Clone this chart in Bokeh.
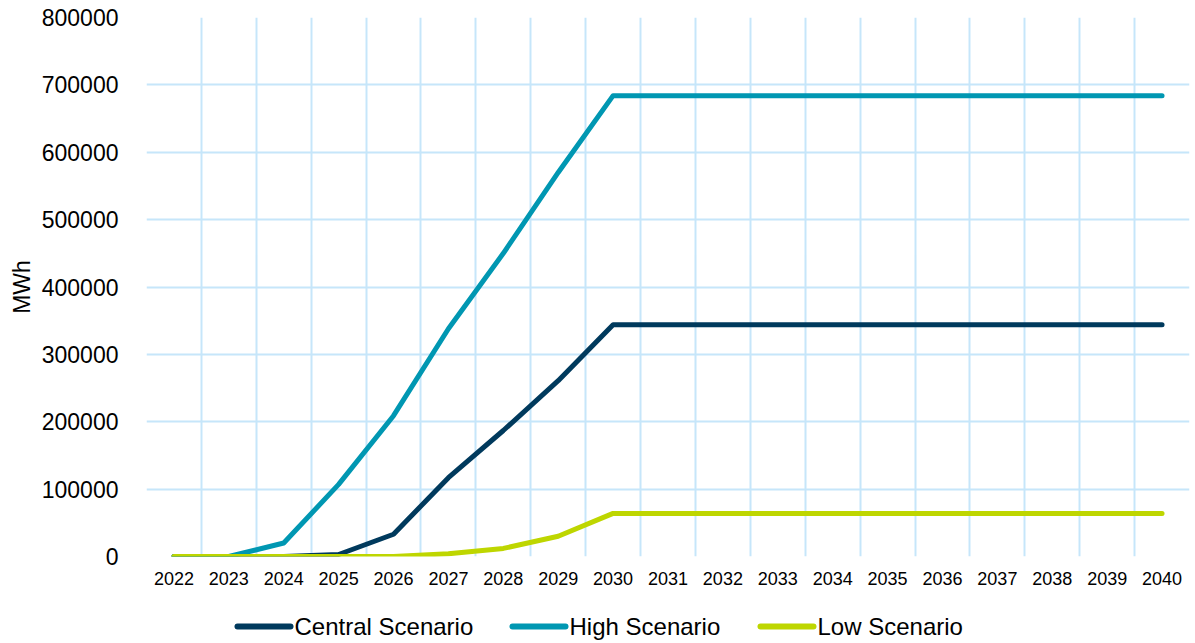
from bokeh.plotting import figure
from bokeh.layouts import column
from bokeh.models import FixedTicker, Range1d, NumeralTickFormatter
from bokeh.core.properties import value
from bokeh.embed import file_html
from bokeh.resources import INLINE

years = [str(y) for y in range(2022, 2041)]
central = [0, 0, 0, 3000, 33000, 117000, 187000, 261000, 344000,
           344000, 344000, 344000, 344000, 344000, 344000, 344000, 344000, 344000, 344000]
high = [0, 0, 20000, 107000, 209000, 338000, 450000, 570000, 684000,
        684000, 684000, 684000, 684000, 684000, 684000, 684000, 684000, 684000, 684000]
low = [0, 0, 0, 0, 0, 4000, 12000, 30000, 64000,
       64000, 64000, 64000, 64000, 64000, 64000, 64000, 64000, 64000, 64000]
y_ticks = list(range(0, 800001, 100000))
series_names = ["Central Scenario", "High Scenario", "Low Scenario"]
series_colors = ["#003A5D", "#0097B2", "#BED600"]

xs = list(range(len(years)))
FONT = "Liberation Sans"
GRID = "#C6E6FA"
W = 1195
LEFT, RIGHT = 146, 6
LEGEND_H = 43

p = figure(width=W, height=643 - LEGEND_H, output_backend="svg", toolbar_location=None,
           x_range=Range1d(-0.5, len(years) - 0.5), y_range=Range1d(0, 800000),
           min_border_left=LEFT, min_border_right=RIGHT, min_border_top=17,
           min_border_bottom=44)
p.outline_line_color = None
p.background_fill_color = "white"
p.border_fill_color = "white"

# category labels in the middle, grid lines on the category boundaries
p.xaxis.ticker = FixedTicker(ticks=xs)
p.xaxis.major_label_overrides = {i: y for i, y in enumerate(years)}
p.xgrid.ticker = FixedTicker(ticks=[i - 0.5 for i in range(len(years) + 1)])
p.yaxis.ticker = FixedTicker(ticks=y_ticks)
p.yaxis.formatter = NumeralTickFormatter(format="0")
p.ygrid.ticker = FixedTicker(ticks=y_ticks)
for g in (p.xgrid, p.ygrid):
    g.grid_line_color = GRID
    g.grid_line_width = 2

for ax in (p.xaxis, p.yaxis):
    ax.axis_line_color = None
    ax.major_tick_line_color = None
    ax.minor_tick_line_color = None
    ax.major_label_text_font = FONT
    ax.major_label_text_color = "#000000"

p.xaxis.major_label_text_font_size = "18px"
p.xaxis.major_label_standoff = 9
p.yaxis.major_label_text_font_size = "23px"
p.yaxis.major_label_standoff = 22
p.yaxis.axis_label = "MWh"
p.yaxis.axis_label_text_font = FONT
p.yaxis.axis_label_text_font_size = "23px"
p.yaxis.axis_label_text_font_style = "normal"
p.yaxis.axis_label_text_color = "#000000"
p.yaxis.axis_label_standoff = 4

for vals, color in zip([central, high, low], series_colors):
    p.line(xs, vals, line_color=color, line_width=5,
           line_cap="round", line_join="round")

# legend strip under the chart; its frame lines up with the chart frame,
# so the x range is given in page pixels
lg = figure(width=W, height=LEGEND_H, output_backend="svg", toolbar_location=None,
            x_range=Range1d(LEFT, W - RIGHT), y_range=Range1d(0, LEGEND_H),
            min_border_left=LEFT, min_border_right=RIGHT,
            min_border_top=0, min_border_bottom=0)
lg.axis.visible = False
lg.grid.visible = False
lg.outline_line_color = None
lg.background_fill_color = "white"
lg.border_fill_color = "white"

key_x0 = [237, 512, 760]
key_len = 53
row_y = LEGEND_H - 26
lg.segment(x0=key_x0, y0=[row_y] * 3, x1=[x + key_len for x in key_x0], y1=[row_y] * 3,
           line_color=series_colors, line_width=6, line_cap="round")
lg.text(x=[x + key_len + 4 for x in key_x0], y=[row_y] * 3, text=series_names,
        text_font=value(FONT), text_font_size="24px", text_color="#000000",
        text_baseline="middle", text_align="left")

open("out.html", "w").write(file_html(column(p, lg, spacing=0), INLINE))
